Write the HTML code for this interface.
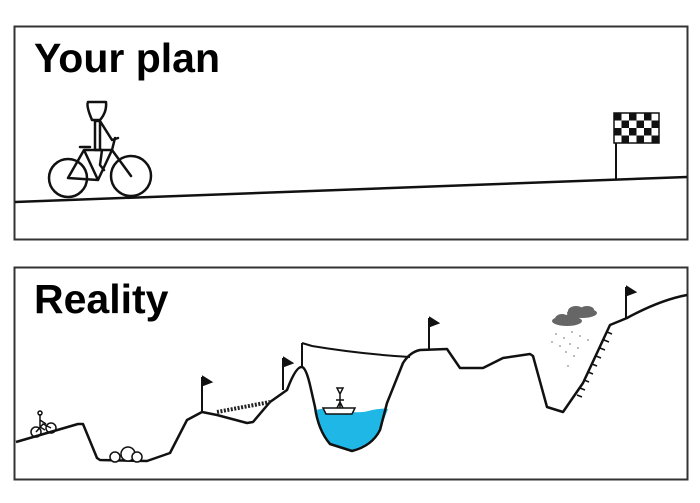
<!DOCTYPE html>
<html><head><meta charset="utf-8"><style>
html,body{margin:0;padding:0;background:#fff;}
svg{display:block}
text{font-family:"Liberation Sans",sans-serif;font-weight:bold;fill:#000}
</style></head><body>
<svg width="700" height="503" viewBox="0 0 700 503" xmlns="http://www.w3.org/2000/svg">
<rect x="14.5" y="26.5" width="673" height="213" fill="#fff" stroke="#333" stroke-width="2"/>
<rect x="14.5" y="267.5" width="673" height="212" fill="#fff" stroke="#333" stroke-width="2"/>
<text x="34" y="72" font-size="41">Your plan</text>
<text x="34" y="313" font-size="41">Reality</text>
<line x1="15" y1="202" x2="687" y2="177" stroke="#111" stroke-width="2.5"/>
<g fill="none" stroke="#111" stroke-width="2.5" stroke-linecap="round" stroke-linejoin="round">
<circle cx="68" cy="178" r="19"/>
<circle cx="131" cy="176" r="20"/>
<path d="M68 178 L84 150 L112 150 L131 176 M84 150 L98 180 L112 150 M68 178 L98 180 M112 150 L115 138 M80 147 L90 147"/>
<path d="M92 120 Q86 106 88 102 L106 102 Q107 112 100 120 Z"/>
<path d="M95 121 L95 150 L102 150 L100 165 L104 170 M95 121 L100 121 L112 140 L118 138 M100 121 L100 150"/>
</g>
<line x1="616" y1="113" x2="616" y2="179" stroke="#111" stroke-width="2"/>
<rect x="614" y="113" width="45" height="30" fill="#fff" stroke="#111" stroke-width="1.5"/>
<g fill="#111">
<rect x="614" y="113" width="7.5" height="7.5"/><rect x="629" y="113" width="7.5" height="7.5"/><rect x="644" y="113" width="7.5" height="7.5"/>
<rect x="621.5" y="120.5" width="7.5" height="7.5"/><rect x="636.5" y="120.5" width="7.5" height="7.5"/><rect x="651.5" y="120.5" width="7.5" height="7.5"/>
<rect x="614" y="128" width="7.5" height="7.5"/><rect x="629" y="128" width="7.5" height="7.5"/><rect x="644" y="128" width="7.5" height="7.5"/>
<rect x="621.5" y="135.5" width="7.5" height="7.5"/><rect x="636.5" y="135.5" width="7.5" height="7.5"/><rect x="651.5" y="135.5" width="7.5" height="7.5"/>
</g>
<path d="M316 410 Q330 406 345 411 Q360 414 372 410 Q382 408 388 409 L380 430 Q370 446 352 450 Q338 446 330 444 Q318 432 316 410 Z" fill="#1fb8e6"/>
<path d="M16 442 L78 424 L83 424 L97 458 L100 460 L147 461 L170 453 L187 420 L202 412 L217 415 L247 423 L253 422 L270 402 L287 390 Q296 366 302 367 Q306 368 310 385 L315 407 Q318 430 330 444 L352 451 Q372 446 380 430 L387 403 L403 363 Q410 352 420 350 L447 349 L460 368 L483 368 L503 358 L530 354 L533 356 L547 407 L563 412 L583 383 L610 325 L627 318 Q660 300 687 295" fill="none" stroke="#111" stroke-width="2.5" stroke-linejoin="round"/>
<path d="M217 412 L270 402" stroke="#222" stroke-width="4" stroke-dasharray="2 1.5" fill="none"/>
<path d="M302 343 L312 346 Q360 354 410 357 M302 343 L302 367" stroke="#111" stroke-width="2" fill="none"/>
<g stroke="#111" stroke-width="2" fill="#111">
<line x1="202" y1="377" x2="202" y2="412"/><path d="M203 377 L211 382 L203 385 Z"/>
<line x1="283" y1="358" x2="283" y2="390"/><path d="M284 358 L292 363 L284 366 Z"/>
<line x1="429" y1="318" x2="429" y2="350"/><path d="M430 318 L438 323 L430 326 Z"/>
<line x1="626" y1="287" x2="626" y2="318"/><path d="M627 287 L635 292 L627 295 Z"/>
</g>
<g stroke="#111" stroke-width="1.5" fill="none">
<path d="M323 408 L355 408 L352 414 L326 414 Z" fill="#fff"/>
<path d="M337 388 L343 388 L340 394 Z M340 394 L340 408 M336 400 L344 400 M337 408 L340 402 L343 408"/>
</g>
<g stroke="#111" stroke-width="1.5" fill="#fff">
<circle cx="115" cy="457" r="5"/><circle cx="128" cy="454" r="7"/><circle cx="137" cy="457" r="5"/>
</g>
<g stroke="#111" stroke-width="1.5" fill="none">
<circle cx="36" cy="432" r="5"/><circle cx="51" cy="428" r="5"/>
<path d="M36 432 L43 424 L51 428 M40 414 L40 427 L45 430 M40 420 L46 424"/>
<circle cx="40" cy="413" r="2"/>
</g>
<g fill="#666">
<ellipse cx="582" cy="313" rx="15" ry="5"/><ellipse cx="576" cy="311" rx="8" ry="5"/><ellipse cx="587" cy="310" rx="7" ry="4"/>
<ellipse cx="567" cy="321" rx="15" ry="5"/><ellipse cx="562" cy="319" rx="7" ry="5"/><ellipse cx="572" cy="318" rx="7" ry="5"/>
</g>
<g fill="#aaa">
<circle cx="556" cy="334" r="1"/><circle cx="564" cy="338" r="1"/><circle cx="572" cy="332" r="1"/><circle cx="580" cy="336" r="1"/>
<circle cx="552" cy="342" r="1"/><circle cx="560" cy="346" r="1"/><circle cx="570" cy="344" r="1"/><circle cx="578" cy="348" r="1"/>
<circle cx="566" cy="352" r="1"/><circle cx="574" cy="356" r="1"/><circle cx="568" cy="366" r="1"/><circle cx="588" cy="340" r="1"/>
</g>
<path d="M588 372 l5 2 M592 364 l5 2 M596 356 l5 2 M600 348 l5 2 M604 340 l5 2 M607 332 l5 2 M584 380 l5 2 M580 388 l5 2 M577 395 l5 2" stroke="#111" stroke-width="1.5"/>
</svg>
</body></html>
